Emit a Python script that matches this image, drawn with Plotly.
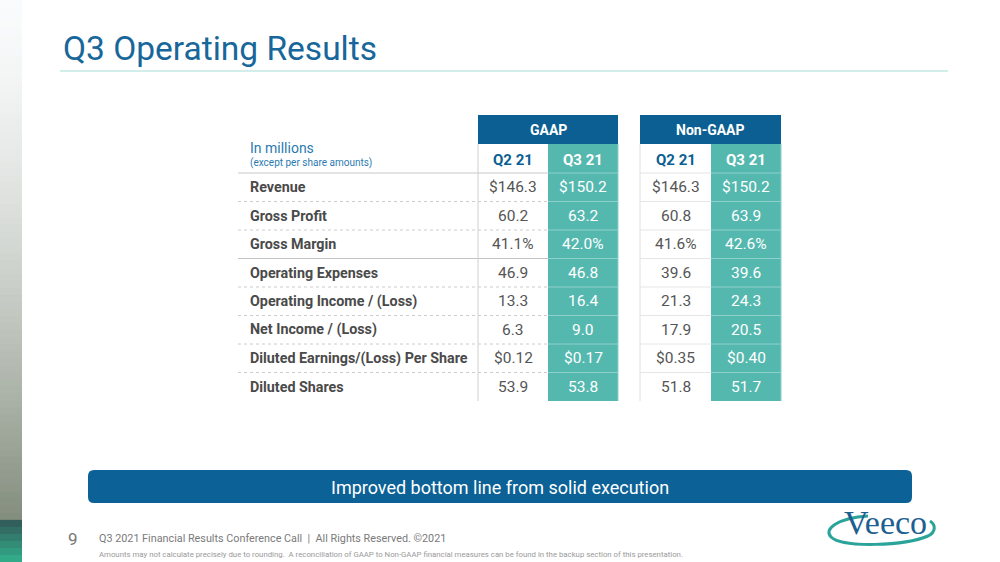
import plotly.graph_objects as go

# ---------------- data ----------------
row_labels = ["Revenue", "Gross Profit", "Gross Margin", "Operating Expenses",
              "Operating Income / (Loss)", "Net Income / (Loss)",
              "Diluted Earnings/(Loss) Per Share", "Diluted Shares"]
gaap_q2 = ["$146.3", "60.2", "41.1%", "46.9", "13.3", "6.3", "$0.12", "53.9"]
gaap_q3 = ["$150.2", "63.2", "42.0%", "46.8", "16.4", "9.0", "$0.17", "53.8"]
nongaap_q2 = ["$146.3", "60.8", "41.6%", "39.6", "21.3", "17.9", "$0.35", "51.8"]
nongaap_q3 = ["$150.2", "63.9", "42.6%", "39.6", "24.3", "20.5", "$0.40", "51.7"]
group_names = ["GAAP", "Non-GAAP"]
period_names = ["Q2 21", "Q3 21"]

title_text = "Q3 Operating Results"
unit_text = "In millions"
unit_sub = "(except per share amounts)"
banner_text = "Improved bottom line from solid execution"
page_no = "9"
footer_text = "Q3 2021 Financial Results Conference Call  |  All Rights Reserved. ©2021"
disclaimer = ("Amounts may not calculate precisely due to rounding.  A reconciliation of GAAP to "
              "Non-GAAP financial measures can be found in the backup section of this presentation.")

# ---------------- styling ----------------
BLUE = "#0b5f92"
TEAL = "#55b8af"
TITLE_BLUE = "#17679a"
TXT = "#555555"
LBL = "#4a4a4a"
FONT = "Roboto"

W, H = 1000, 562
fig = go.Figure()
fig.update_layout(
    width=W, height=H, margin=dict(l=0, r=0, t=0, b=0),
    paper_bgcolor="white", plot_bgcolor="white", showlegend=False,
    xaxis=dict(range=[0, W], visible=False, fixedrange=True),
    yaxis=dict(range=[H, 0], visible=False, fixedrange=True),
)
fig.add_trace(go.Scatter(x=[0, W], y=[0, H], mode="markers",
                         marker=dict(opacity=0), hoverinfo="skip"))

shapes = []
ann = []

def rect(x0, y0, x1, y1, fill, line=None, lw=0, layer="below"):
    shapes.append(dict(type="rect", xref="x", yref="y", x0=x0, y0=y0, x1=x1, y1=y1,
                       fillcolor=fill, line=dict(color=line or fill, width=lw), layer=layer))

def hline(x0, x1, y, color, width=1, dash="solid"):
    shapes.append(dict(type="line", xref="x", yref="y", x0=x0, x1=x1, y0=y, y1=y,
                       line=dict(color=color, width=width, dash=dash), layer="above"))

def vline(x, y0, y1, color, width=1):
    shapes.append(dict(type="line", xref="x", yref="y", x0=x, x1=x, y0=y0, y1=y1,
                       line=dict(color=color, width=width), layer="above"))

def text(x, y, s, size, color, xanchor="center", bold=False, family=FONT):
    if bold:
        s = "<b>" + s + "</b>"
    ann.append(dict(x=x, y=y, xref="x", yref="y", text=s, showarrow=False,
                    xanchor=xanchor, yanchor="middle",
                    font=dict(size=size, color=color, family=family)))

# ---- left decorative strip (gradient) ----
n = 80
def mix(c1, c2, t):
    return "rgb(%d,%d,%d)" % tuple(int(a + (b - a) * t) for a, b in zip(c1, c2))
for i in range(n):
    y0 = i * H / n
    if y0 < 515:
        col = mix((250, 251, 252), (132, 142, 126), min(1, (y0 / 515) ** 1.5))
    else:
        col = mix((50, 85, 85), (50, 185, 145), (y0 - 515) / 47)
    rect(0, y0, 22, y0 + H / n + 1, col)

# ---- title ----
text(61, 48, title_text, 33.5, TITLE_BLUE, xanchor="left")
hline(60, 948, 71, "#d2eeea", width=2)

# ---- table geometry ----
lab_x0 = 238
g_x = [478, 548, 618]
n_x = [640, 711, 781]
y_top = 115
y_hdr = 144
y_sub = 173
row_h = (401 - y_sub) / len(row_labels)
y_bot = y_sub + row_h * len(row_labels)

for name, xs in zip(group_names, [g_x, n_x]):
    rect(xs[0], y_top, xs[2], y_hdr, BLUE)
    text((xs[0] + xs[2]) / 2, (y_top + y_hdr) / 2, name, 14, "white", bold=True)
    rect(xs[1], y_hdr, xs[2], y_bot, TEAL)
    for j, p in enumerate(period_names):
        cx = (xs[j] + xs[j + 1]) / 2
        text(cx, (y_hdr + y_sub) / 2 + 1, p, 15, "white" if j == 1 else BLUE, bold=True)

text(248, 148, unit_text, 14, "#2a7ab0", xanchor="left")
text(248, 163, unit_sub, 10, "#2a7ab0", xanchor="left")

for i, lab in enumerate(row_labels):
    cy = y_sub + row_h * (i + 0.5)
    text(248, cy, lab, 14.3, LBL, xanchor="left", bold=True)
    text((g_x[0] + g_x[1]) / 2, cy, gaap_q2[i], 15.5, TXT)
    text((g_x[1] + g_x[2]) / 2, cy, gaap_q3[i], 15.5, "white")
    text((n_x[0] + n_x[1]) / 2, cy, nongaap_q2[i], 15.5, TXT)
    text((n_x[1] + n_x[2]) / 2, cy, nongaap_q3[i], 15.5, "white")

hline(lab_x0, g_x[1], y_sub, "#c8c8c8", 1)
hline(n_x[0], n_x[1], y_sub, "#e4e4e4", 1)
for i in range(1, len(row_labels)):
    y = y_sub + row_h * i
    solid = (i == 3)
    hline(lab_x0, g_x[1], y, "#c4c4c4" if solid else "#cccccc", 1,
          "solid" if solid else "dot")
    hline(g_x[1], g_x[2], y, "#8fd0ca", 1)
    hline(n_x[0], n_x[1], y, "#e6e6e6", 1)
    hline(n_x[1], n_x[2], y, "#8fd0ca", 1)
hline(g_x[1], g_x[2], y_sub, "#8fd0ca", 1)
hline(n_x[1], n_x[2], y_sub, "#8fd0ca", 1)

vline(g_x[0], y_hdr, y_bot, "#d0d0d0")
vline(n_x[0], y_hdr, y_bot, "#e0e0e0")
vline(g_x[2], y_hdr, y_bot, "#8fd0ca")
vline(n_x[2], y_hdr, y_bot, "#8fd0ca")

# ---- banner ----
bx0, bx1, by0, by1, r = 88, 912, 470, 503, 6
path = (f"M {bx0+r},{by0} L {bx1-r},{by0} Q {bx1},{by0} {bx1},{by0+r} "
        f"L {bx1},{by1-r} Q {bx1},{by1} {bx1-r},{by1} L {bx0+r},{by1} "
        f"Q {bx0},{by1} {bx0},{by1-r} L {bx0},{by0+r} Q {bx0},{by0} {bx0+r},{by0} Z")
shapes.append(dict(type="path", xref="x", yref="y", path=path,
                   fillcolor="#0c6196", line=dict(width=0), layer="below"))
text(500, 487, banner_text, 18, "white")

# ---- footer ----
text(73, 539, page_no, 17, "#777777")
text(97, 538, footer_text, 10.8, "#7a7a7a", xanchor="left")
text(97, 554, disclaimer, 7.8, "#9a9a9a", xanchor="left")

# ---- logo ----
shapes.append(dict(type="path", xref="x", yref="y",
                   path="M 868,516 C 838,518 823,529 831,537 C 842,548 905,546 928,536 "
                        "C 936,532 936,525 930,521",
                   line=dict(color="#2aa39a", width=3), layer="above"))
text(885, 522, "Veeco", 34, "#1d5f90", family="Liberation Serif")

fig.update_layout(shapes=shapes, annotations=ann)
fig.write_html("out.html", config={"displayModeBar": False},
               post_script="document.body.style.margin='0';document.body.style.overflow='hidden';")
